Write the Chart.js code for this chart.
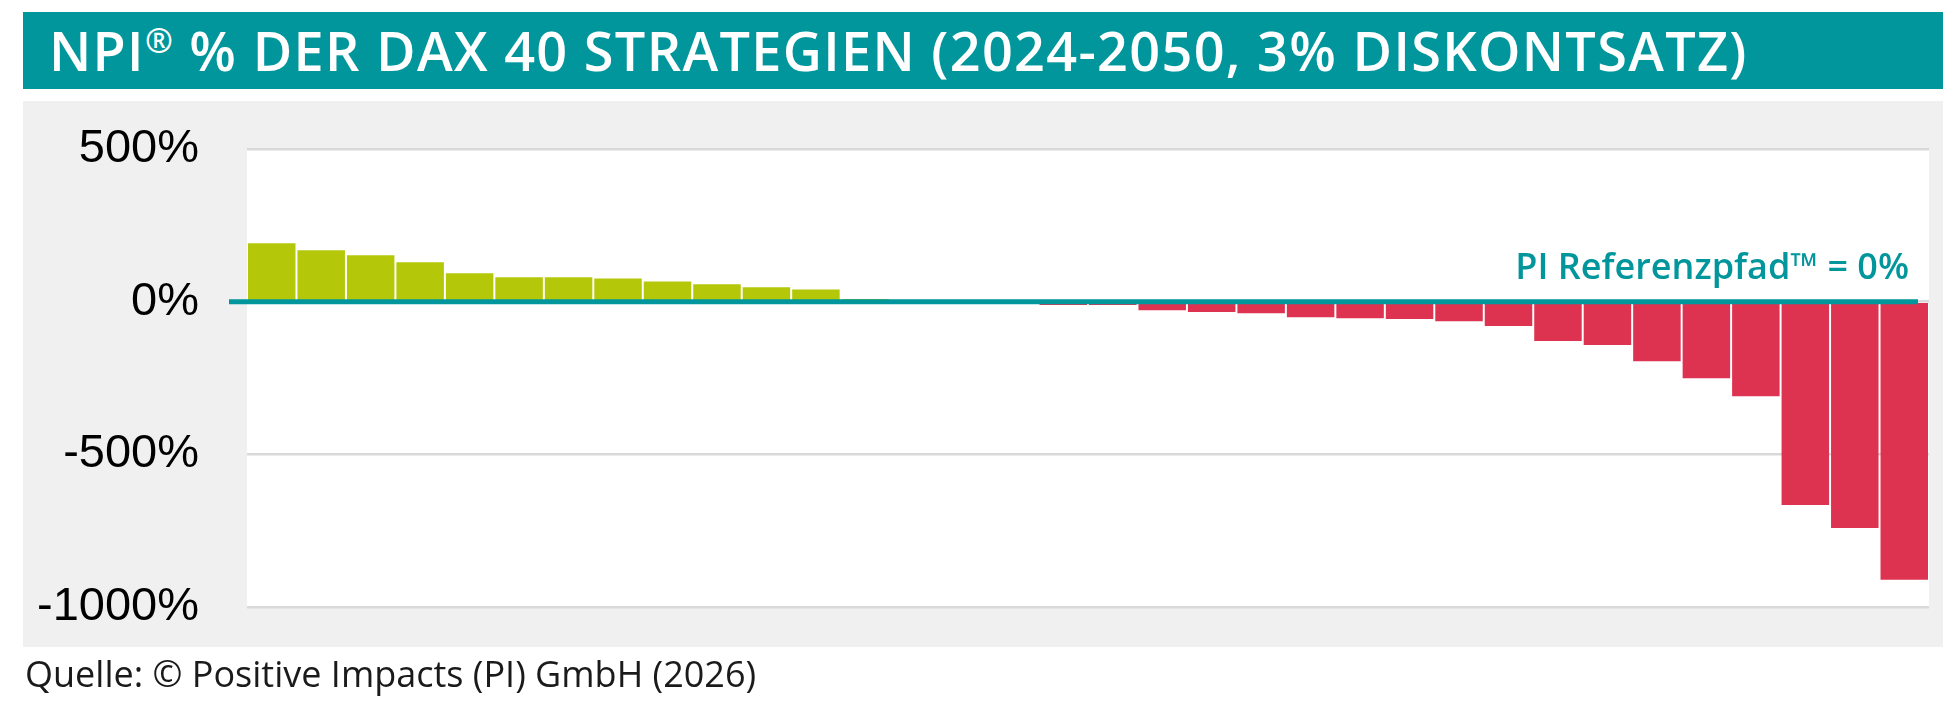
<!DOCTYPE html>
<html lang="de">
<head>
<meta charset="utf-8">
<title>NPI % der DAX 40 Strategien</title>
<script src="https://cdn.jsdelivr.net/npm/chart.js@4.4.1/dist/chart.umd.min.js"></script>
<style>
  html, body { margin: 0; padding: 0; background: #ffffff; }
  body { width: 1943px; height: 723px; position: relative; overflow: hidden; }
  #title-bar {
    position: absolute; left: 23px; top: 12px; width: 1920px; height: 77px;
    background: #00969c;
  }
  #title-bar h1 {
    margin: 0; position: absolute; left: 26px; top: 8px;
    font-family: "Open Sans", sans-serif; font-weight: 600; font-size: 54px;
    letter-spacing: 1.3px;
    color: #ffffff; white-space: nowrap; line-height: 60px;
  }
  #title-bar h1 .reg { font-size: 0.62em; vertical-align: 0.55em; line-height: 0; }
  #panel {
    position: absolute; left: 23px; top: 101px; width: 1920px; height: 546px;
    background: #f0f0f0;
  }
  #chart-wrap { position: absolute; left: 0; top: 0; width: 1943px; height: 723px; }
  #source {
    position: absolute; left: 25px; top: 649px;
    font-family: "Open Sans", sans-serif; font-size: 36px; color: #1a1a1a;
    white-space: nowrap; line-height: 50px;
  }
</style>
</head>
<body>
<div id="title-bar"><h1>NPI<span class="reg">®</span> % DER DAX 40 STRATEGIEN (2024-2050, 3% DISKONTSATZ)</h1></div>
<div id="panel"></div>
<div id="chart-wrap"><canvas id="npiChart"></canvas></div>
<div id="source">Quelle: © Positive Impacts (PI) GmbH (2026)</div>

<script>
// one bar per company strategy, sorted from best to worst NPI
const ranks = [
  1, 2, 3, 4, 5, 6, 7, 8, 9, 10, 11, 12, 13, 14, 15, 16, 17,
  18, 19, 20, 21, 22, 23, 24, 25, 26, 27, 28, 29, 30, 31, 32, 33, 34
];
const npiValues = [
  191, 168, 152, 129, 93, 80, 80, 76, 66, 57, 47, 40, 9,
  3, 1, -2,
  -11, -11, -28, -34, -38, -51, -54, -57, -64,
  -80, -129, -142, -195, -251, -310, -666, -741, -911
];
const yTicks = [500, 0, -500, -1000];

const positiveColor = "#b4c809";
const negativeColor = "#dd3351";
const referenceColor = "#00969c";
const referenceLabel = "PI Referenzpfad™ = 0%";

// white plot background (under the grid) + teal zero line on top of the bars
const referencePlugin = {
  id: "referenceLine",
  beforeDraw(chart) {
    const { ctx, chartArea } = chart;
    ctx.save();
    ctx.fillStyle = "#ffffff";
    ctx.fillRect(chartArea.left, chartArea.top, chartArea.width, chartArea.height);
    ctx.restore();
  },
  afterDatasetsDraw(chart) {
    const { ctx, chartArea, scales } = chart;
    const y0 = scales.y.getPixelForValue(0);
    ctx.save();
    ctx.strokeStyle = referenceColor;
    ctx.lineWidth = 5;
    ctx.beginPath();
    ctx.moveTo(chartArea.left - 18, y0);
    ctx.lineTo(chartArea.right - 11, y0);
    ctx.stroke();

    ctx.fillStyle = referenceColor;
    ctx.font = "600 36px 'Open Sans', sans-serif";
    ctx.textAlign = "right";
    ctx.textBaseline = "alphabetic";
    ctx.fillText(referenceLabel, chartArea.right - 20, y0 - 23);
    ctx.restore();
  },
};

new Chart(document.getElementById("npiChart"), {
  type: "bar",
  data: {
    labels: ranks,
    datasets: [
      {
        data: npiValues,
        backgroundColor: (c) => (c.raw >= 0 ? positiveColor : negativeColor),
        borderWidth: 0,
        categoryPercentage: 1.0,
        barPercentage: 0.96,
      },
    ],
  },
  options: {
    responsive: true,
    maintainAspectRatio: false,
    animation: false,
    layout: {
      padding: { top: 149, right: 14, bottom: 116, left: 0 },
    },
    plugins: {
      legend: { display: false },
      tooltip: { enabled: false },
    },
    scales: {
      x: {
        display: false,
      },
      y: {
        min: -1000,
        max: 500,
        afterFit(scale) {
          scale.width = 247;
        },
        afterBuildTicks(scale) {
          scale.ticks = yTicks.map((v) => ({ value: v }));
        },
        border: { display: false },
        grid: {
          color: "#d9d9d9",
          lineWidth: 2.5,
          drawTicks: false,
        },
        ticks: {
          padding: 48,
          color: "#000000",
          font: { family: "'Liberation Sans', Arial, sans-serif", size: 47 },
          callback: (v) => v + "%",
        },
      },
    },
  },
  plugins: [referencePlugin],
});
</script>
</body>
</html>
